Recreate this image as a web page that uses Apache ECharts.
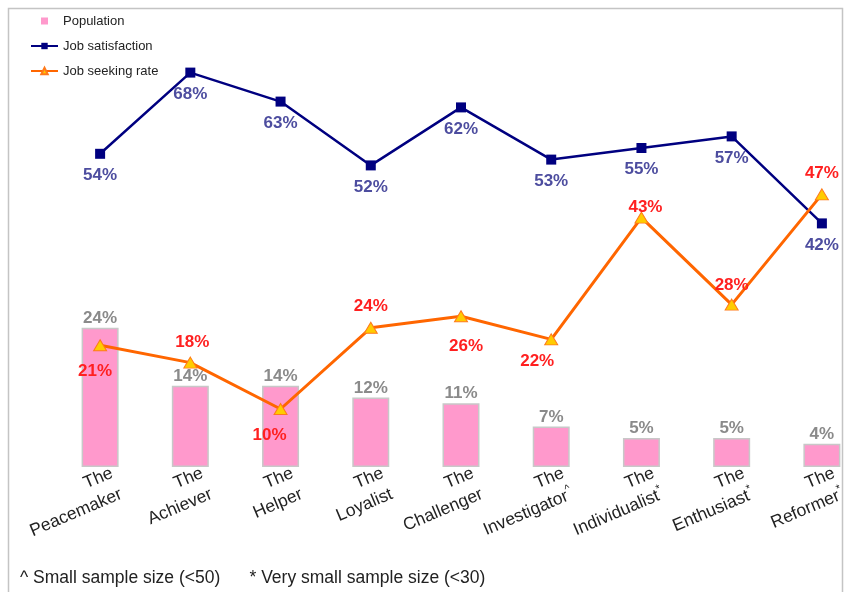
<!DOCTYPE html>
<html><head><meta charset="utf-8">
<script src="https://cdn.jsdelivr.net/npm/echarts@6/dist/echarts.min.js"></script>
<style>html,body{margin:0;padding:0;background:#fff}#c{width:853px;height:592px}</style>
</head><body><div id="c"></div>
<script>
const categories = ['The Peacemaker','The Achiever','The Helper','The Loyalist','The Challenger','The Investigator','The Individualist','The Enthusiast','The Reformer'];
const sampleMarks = ['','','','','','^','*','*','*'];
const population = [24,14,14,12,11,7,5,5,4];
const jobSatisfaction = [54,68,63,52,62,53,55,57,42];
const jobSeeking = [21,18,10,24,26,22,43,28,47];
const footnote = '^ Small sample size (<50)      * Very small sample size (<30)';

// label placement styles (not data)
const seekLabelSide = ['bottom','top','bottom','top','bottom','bottom','top','top','top'];
const seekLabelShift = [[-5,0],[2,0],[-11,0],[0,-2],[5,4],[-14,-4],[4,10],[0,1],[0,-1]];

const FONT = '"Liberation Sans", Arial, sans-serif';
const chart = echarts.init(document.getElementById('c'), null, {renderer:'canvas'});

const seekData = jobSeeking.map((v,i)=>({
  value: v,
  label: {position: seekLabelSide[i], offset: seekLabelShift[i], distance: seekLabelSide[i]==='bottom'?11.5:5.5}
}));

chart.setOption({
  animation: false,
  textStyle: {fontFamily: FONT},
  graphic: [
    {type:'rect', shape:{x:8.5,y:8.5,width:834,height:640}, style:{fill:'none', stroke:'#c4c4c4', lineWidth:1.5}, silent:true},
    {type:'text', left:20, top:569, style:{text: footnote, font:'17.5px '+FONT, fill:'#222'}}
  ],
  legend: {
    orient:'vertical', left:25, top:9, itemWidth:27, itemHeight:8, itemGap:11,
    textStyle:{fontSize:13, color:'#222', lineHeight:14, fontFamily: FONT},
    data:[
      {name:'Population', icon:'path://M0,0M10,0h7v7h-7zM27,7', itemStyle:{borderWidth:0}},
      {name:'Job satisfaction'},
      {name:'Job seeking rate'}
    ]
  },
  grid: {left:55, width:812, top:3, bottom:125, containLabel:false, outerBoundsMode:'none'},
  xAxis: {
    type:'category', data: categories,
    axisLine:{show:false}, axisTick:{show:false}, splitLine:{show:false},
    axisLabel:{
      interval:0, rotate:23, align:'right', verticalAlign:'middle', margin:23,
      padding:[0,-18,0,0],
      formatter:(val, idx)=>{
        const parts = val.split(' ');
        const m = sampleMarks[idx];
        return '{a|'+parts[0]+'}\n{a|'+parts.slice(1).join(' ')+'}' + (m?'{s|'+m+'}':'');
      },
      rich:{
        a:{fontSize:17.5, lineHeight:23, color:'#222', fontFamily:FONT},
        s:{fontSize:11, lineHeight:23, color:'#222', fontFamily:FONT, verticalAlign:'top', padding:[0,0,8,0]}
      }
    }
  },
  yAxis: {type:'value', min:0, max:80, show:false, splitLine:{show:false}},
  series: [
    {
      name:'Population', type:'bar', data: population, barWidth:37,
      itemStyle:{color:'#ff99cc', borderColor:'#c8c8c8', borderWidth:1.5},
      label:{show:true, position:'top', distance:1, formatter:'{c}%', color:'#8a8a8a', fontSize:17, fontWeight:'bold', fontFamily:FONT}
    },
    {
      name:'Job satisfaction', type:'line', data: jobSatisfaction,
      symbol:'rect', symbolSize:10,
      lineStyle:{color:'#000080', width:2.5}, itemStyle:{color:'#000080'},
      label:{show:true, position:'bottom', distance:8, formatter:'{c}%', color:'#4d4d9f', fontSize:17, fontWeight:'bold', fontFamily:FONT}
    },
    {
      name:'Job seeking rate', type:'line', data: seekData,
      symbol:'triangle', symbolSize:[13,11],
      lineStyle:{color:'#ff6600', width:3}, itemStyle:{color:'#ffcc00', borderColor:'#ff7a1a', borderWidth:1},
      label:{show:true, formatter:'{c}%', color:'#ff2020', fontSize:17, fontWeight:'bold', fontFamily:FONT}
    }
  ]
});
</script></body></html>
